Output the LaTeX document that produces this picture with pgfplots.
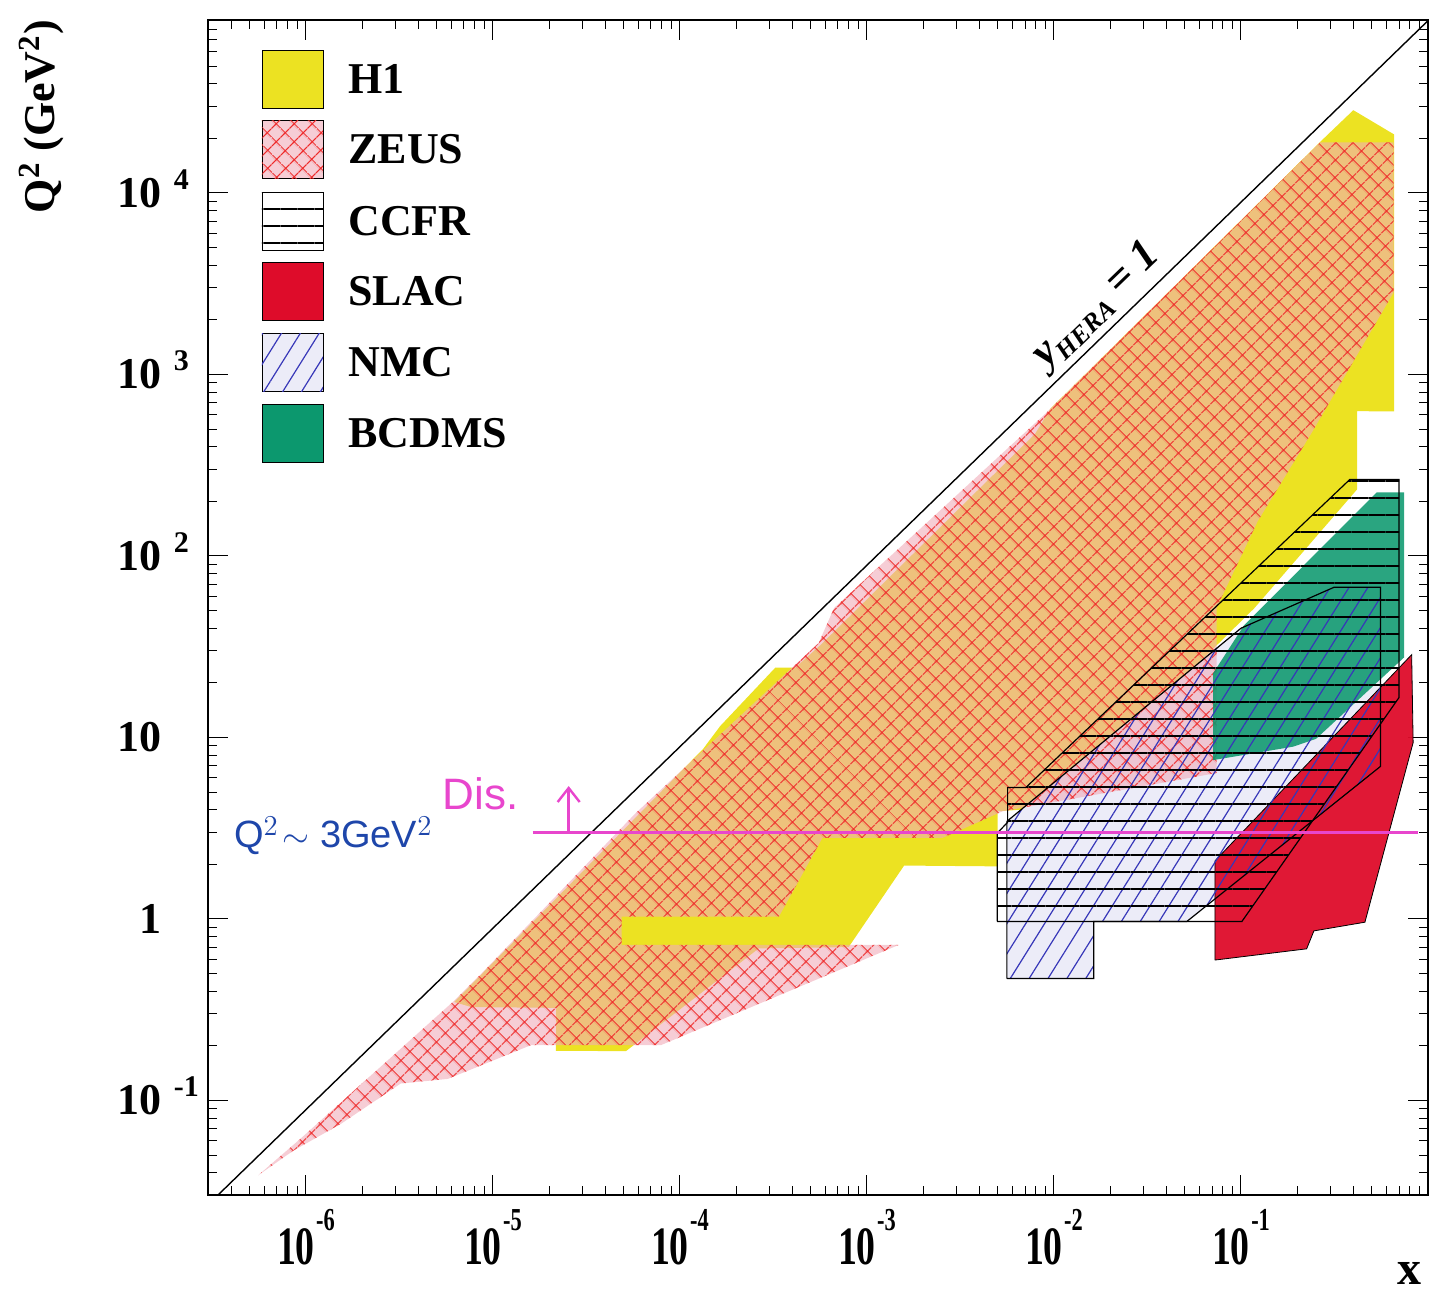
\documentclass[border=0pt]{standalone}
\usepackage{fontspec}
\setmainfont{Liberation Serif}
\newfontfamily\handfont{Liberation Sans}
\usepackage{graphicx}
\usepackage{pgfplots}
\pgfplotsset{compat=1.18}
\usetikzlibrary{patterns.meta,arrows.meta}

\definecolor{h1y}{RGB}{236,226,34}
\definecolor{zpink}{RGB}{240,172,185}
\definecolor{zred}{RGB}{238,40,40}
\definecolor{nblue}{RGB}{55,55,185}
\definecolor{nfill}{RGB}{236,236,248}
\definecolor{slac}{RGB}{222,12,42}
\definecolor{bcdms}{RGB}{12,152,110}
\definecolor{dis}{RGB}{232,70,205}
\definecolor{hand}{RGB}{30,70,170}

\newcommand{\xtl}[1]{\scalebox{0.7}[1]{\fontsize{27}{27}\selectfont\bfseries 10\hspace{1pt}\raisebox{17pt}{\fontsize{16}{16}\selectfont #1}}}
\newcommand{\ytl}[1]{{\fontsize{22}{22}\selectfont\bfseries 10\rlap{\hspace{6pt}\smash{\raisebox{9pt}{\fontsize{15}{15}\selectfont #1}}}}}
\newcommand{\ytn}[1]{{\fontsize{22}{22}\selectfont\bfseries #1}}
\newcommand{\legfont}{\fontsize{22}{22}\selectfont\bfseries}

\tikzset{
  zeus/.style={draw=none, fill=zpink, fill opacity=0.6,
    postaction={fill opacity=1, pattern={Hatch[angle=45,distance=6.5pt,line width=0.65pt]}, pattern color=zred}},
  nmclines/.style={pattern={Lines[angle=58,distance=8pt,line width=0.6pt]}, pattern color=nblue},
  ccfrlines/.style={pattern={Lines[angle=0,distance=8.5pt,line width=0.55pt]}, pattern color=black},
}

\begin{document}
\begin{tikzpicture}
\path[use as bounding box] (-104.1pt,-50.8pt) rectangle (619.9pt,597.7pt);
\begin{axis}[
  scale only axis, width=609.9pt, height=587.8pt,
  xmode=log, ymode=log,
  xmin=3e-7, xmax=1, ymin=0.03, ymax=9e4,
  axis line style={line width=1pt},
  every tick/.style={black, line width=0.5pt},
  major tick length=10pt, minor tick length=4.5pt,
  xtick={1e-6,1e-5,1e-4,1e-3,1e-2,1e-1},
  xticklabels={{\xtl{-6}},{\xtl{-5}},{\xtl{-4}},{\xtl{-3}},{\xtl{-2}},{\xtl{-1}}},
  ytick={0.1,1,10,100,1000,10000},
  yticklabels={{\ytl{-1}},{\ytn{1}},{\ytn{10}},{\ytl{2}},{\ytl{3}},{\ytl{4}}},
  minor xtick={4e-7,5e-7,6e-7,7e-7,8e-7,9e-7,
    2e-6,3e-6,4e-6,5e-6,6e-6,7e-6,8e-6,9e-6,
    2e-5,3e-5,4e-5,5e-5,6e-5,7e-5,8e-5,9e-5,
    2e-4,3e-4,4e-4,5e-4,6e-4,7e-4,8e-4,9e-4,
    2e-3,3e-3,4e-3,5e-3,6e-3,7e-3,8e-3,9e-3,
    2e-2,3e-2,4e-2,5e-2,6e-2,7e-2,8e-2,9e-2,
    0.2,0.3,0.4,0.5,0.6,0.7,0.8,0.9},
  minor ytick={0.04,0.05,0.06,0.07,0.08,0.09,
    0.2,0.3,0.4,0.5,0.6,0.7,0.8,0.9,
    2,3,4,5,6,7,8,9,
    20,30,40,50,60,70,80,90,
    200,300,400,500,600,700,800,900,
    2000,3000,4000,5000,6000,7000,8000,9000,
    20000,30000,40000,50000,60000,70000,80000},
  xticklabel style={anchor=north, inner sep=0pt, yshift=-7pt},
  yticklabel style={anchor=east, inner sep=0pt, xshift=-23pt},
  xlabel={x},
  xlabel style={at={(rel axis cs:1,0)}, anchor=north east, inner sep=0pt, yshift=-33.5pt, xshift=-3pt, font=\fontsize{24}{24}\selectfont\bfseries},
  ylabel={Q\textsuperscript{2} (GeV\textsuperscript{2})},
  ylabel style={at={(axis description cs:-0.1363,1)}, anchor=east, inner sep=0pt, font=\fontsize{22}{22}\selectfont\bfseries},
]

% H1
\addplot[draw=none, fill=h1y] coordinates {
(6.21e-6,0.349) (1.33e-4,8.65) (1.64e-4,11.55) (3.24e-4,24.3) (4.15e-4,24.3) (5.66e-4,32.4)
(7.94e-3,472) (9.57e-3,648) (0.283,20400) (0.399,28600) (0.66,21000) (0.66,626) (0.418,628)
(0.418,233) (0.1175,51.4) (0.034,14.6) (0.0233,4.39) (4.99e-3,3.92) (4.99e-3,1.95) (1.58e-3,1.97)
(7.98e-4,0.70) (2.64e-4,0.689) (5.14e-5,0.187) (2.17e-5,0.188) (2.18e-5,0.324) (7.66e-6,0.327) (6.21e-6,0.349)};

% NMC background
\addplot[draw=none, fill=nfill] coordinates {
(5.6e-3,0.47) (0.0163,0.47) (0.0163,0.97) (0.0514,0.97) (0.557,6.93) (0.557,67.3) (0.315,67.3)
(0.100,40.0) (5.6e-3,3.45) (5.6e-3,0.47)};

% ZEUS
\addplot[zeus] coordinates {
(5.55e-7,0.0387) (8.55e-7,0.0529) (1.53e-6,0.0741) (3.21e-6,0.124) (5.73e-6,0.1315) (1.60e-5,0.202)
(7.93e-5,0.202) (1.48e-3,0.72) (4.88e-5,0.72) (4.88e-5,1.03) (3.38e-4,1.03) (5.78e-4,2.8) (2.54e-3,2.8)
(5.31e-3,3.92) (0.074,6.37) (0.074,51.7) (0.1227,155) (0.2404,483) (0.655,2830) (0.655,19000)
(0.2655,19000) (8.99e-3,608) (6.67e-4,51.7) (5.52e-4,33.2) (5.78e-5,3.82) (8.67e-6,0.50)
(6.21e-6,0.355) (9.33e-7,0.0615) (5.55e-7,0.0387)};

% BCDMS
\addplot[draw=none, fill=bcdms, fill opacity=0.88] coordinates {
(0.071,7.51) (0.071,22.6) (0.1038,41.5) (0.532,224) (0.745,224) (0.745,27.6) (0.252,9.83) (0.190,8.90) (0.071,7.51)};

% SLAC
\addplot[draw=black, line width=0.4pt, fill=slac, fill opacity=0.95] coordinates {
(0.0726,0.594) (0.0726,2.09) (0.818,28.6) (0.833,9.37) (0.460,0.96) (0.2455,0.860) (0.2245,0.685) (0.0726,0.594)};

% NMC hatch + outline
\addplot[draw=black, line width=0.6pt, nmclines] coordinates {
(5.6e-3,0.47) (0.0163,0.47) (0.0163,0.97) (0.0514,0.97) (0.557,6.93) (0.557,67.3) (0.315,67.3)
(0.100,40.0) (5.6e-3,3.45) (5.6e-3,0.47)};

% CCFR
\addplot[draw=black, line width=0.6pt, ccfrlines] coordinates {
(4.97e-3,0.97) (4.97e-3,2.97) (5.65e-3,3.41) (5.65e-3,5.3) (7.07e-3,5.3) (0.382,264) (0.70,264)
(0.70,16.6) (0.1012,0.97) (4.97e-3,0.97)};

% y_HERA = 1 line
\addplot[black, line width=0.7pt] coordinates {(3.37e-7,0.03) (1,89000)};

% DIS cut
\addplot[dis, line width=1.2pt] coordinates {(1.63e-5,3) (0.88,3)};
\addplot[dis, line width=1.2pt, -{Straight Barb[length=7pt,width=11pt]}] coordinates {(2.54e-5,3) (2.54e-5,5.4)};

\node[rotate=44, anchor=south, inner sep=3pt, font=\fontsize{22}{22}\selectfont\bfseries\itshape]
  at (axis cs:0.0212,1887) {y\raisebox{-4pt}{\fontsize{13}{13}\selectfont HERA} = 1};
\node[font=\handfont\fontsize{19}{19}\selectfont, text=hand] at (axis cs:1.40e-6,2.87) {Q$^2\!\sim$ 3GeV$^2$};
\node[font=\handfont\fontsize{22}{22}\selectfont, text=dis] at (axis cs:8.6e-6,4.87) {Dis.};

% legend
\draw[fill=h1y, line width=0.4pt] ([xshift=26.9pt,yshift=-15.1pt]rel axis cs:0,1) rectangle ([xshift=57.4pt,yshift=-44.1pt]rel axis cs:0,1);
\draw[fill=zpink!60, line width=0.4pt, postaction={pattern={Hatch[angle=45,distance=6.5pt,line width=0.65pt]}, pattern color=zred}]
  ([xshift=26.9pt,yshift=-50.1pt]rel axis cs:0,1) rectangle ([xshift=57.4pt,yshift=-79.1pt]rel axis cs:0,1);
\draw[fill=white, line width=0.4pt, postaction={ccfrlines}]
  ([xshift=26.9pt,yshift=-86.1pt]rel axis cs:0,1) rectangle ([xshift=57.4pt,yshift=-115.1pt]rel axis cs:0,1);
\draw[fill=slac, line width=0.4pt] ([xshift=26.9pt,yshift=-121.1pt]rel axis cs:0,1) rectangle ([xshift=57.4pt,yshift=-150.1pt]rel axis cs:0,1);
\draw[fill=nfill, line width=0.4pt, postaction={nmclines}]
  ([xshift=26.9pt,yshift=-156.6pt]rel axis cs:0,1) rectangle ([xshift=57.4pt,yshift=-185.6pt]rel axis cs:0,1);
\draw[fill=bcdms, line width=0.4pt] ([xshift=26.9pt,yshift=-192.1pt]rel axis cs:0,1) rectangle ([xshift=57.4pt,yshift=-221.1pt]rel axis cs:0,1);

\node[anchor=west, inner sep=0pt, font=\legfont] at ([xshift=69.9pt,yshift=-29.6pt]rel axis cs:0,1) {H1};
\node[anchor=west, inner sep=0pt, font=\legfont] at ([xshift=69.9pt,yshift=-64.6pt]rel axis cs:0,1) {ZEUS};
\node[anchor=west, inner sep=0pt, font=\legfont] at ([xshift=69.9pt,yshift=-100.6pt]rel axis cs:0,1) {CCFR};
\node[anchor=west, inner sep=0pt, font=\legfont] at ([xshift=69.9pt,yshift=-135.6pt]rel axis cs:0,1) {SLAC};
\node[anchor=west, inner sep=0pt, font=\legfont] at ([xshift=69.9pt,yshift=-171.1pt]rel axis cs:0,1) {NMC};
\node[anchor=west, inner sep=0pt, font=\legfont] at ([xshift=69.9pt,yshift=-206.6pt]rel axis cs:0,1) {BCDMS};
\end{axis}
\end{tikzpicture}
\end{document}
